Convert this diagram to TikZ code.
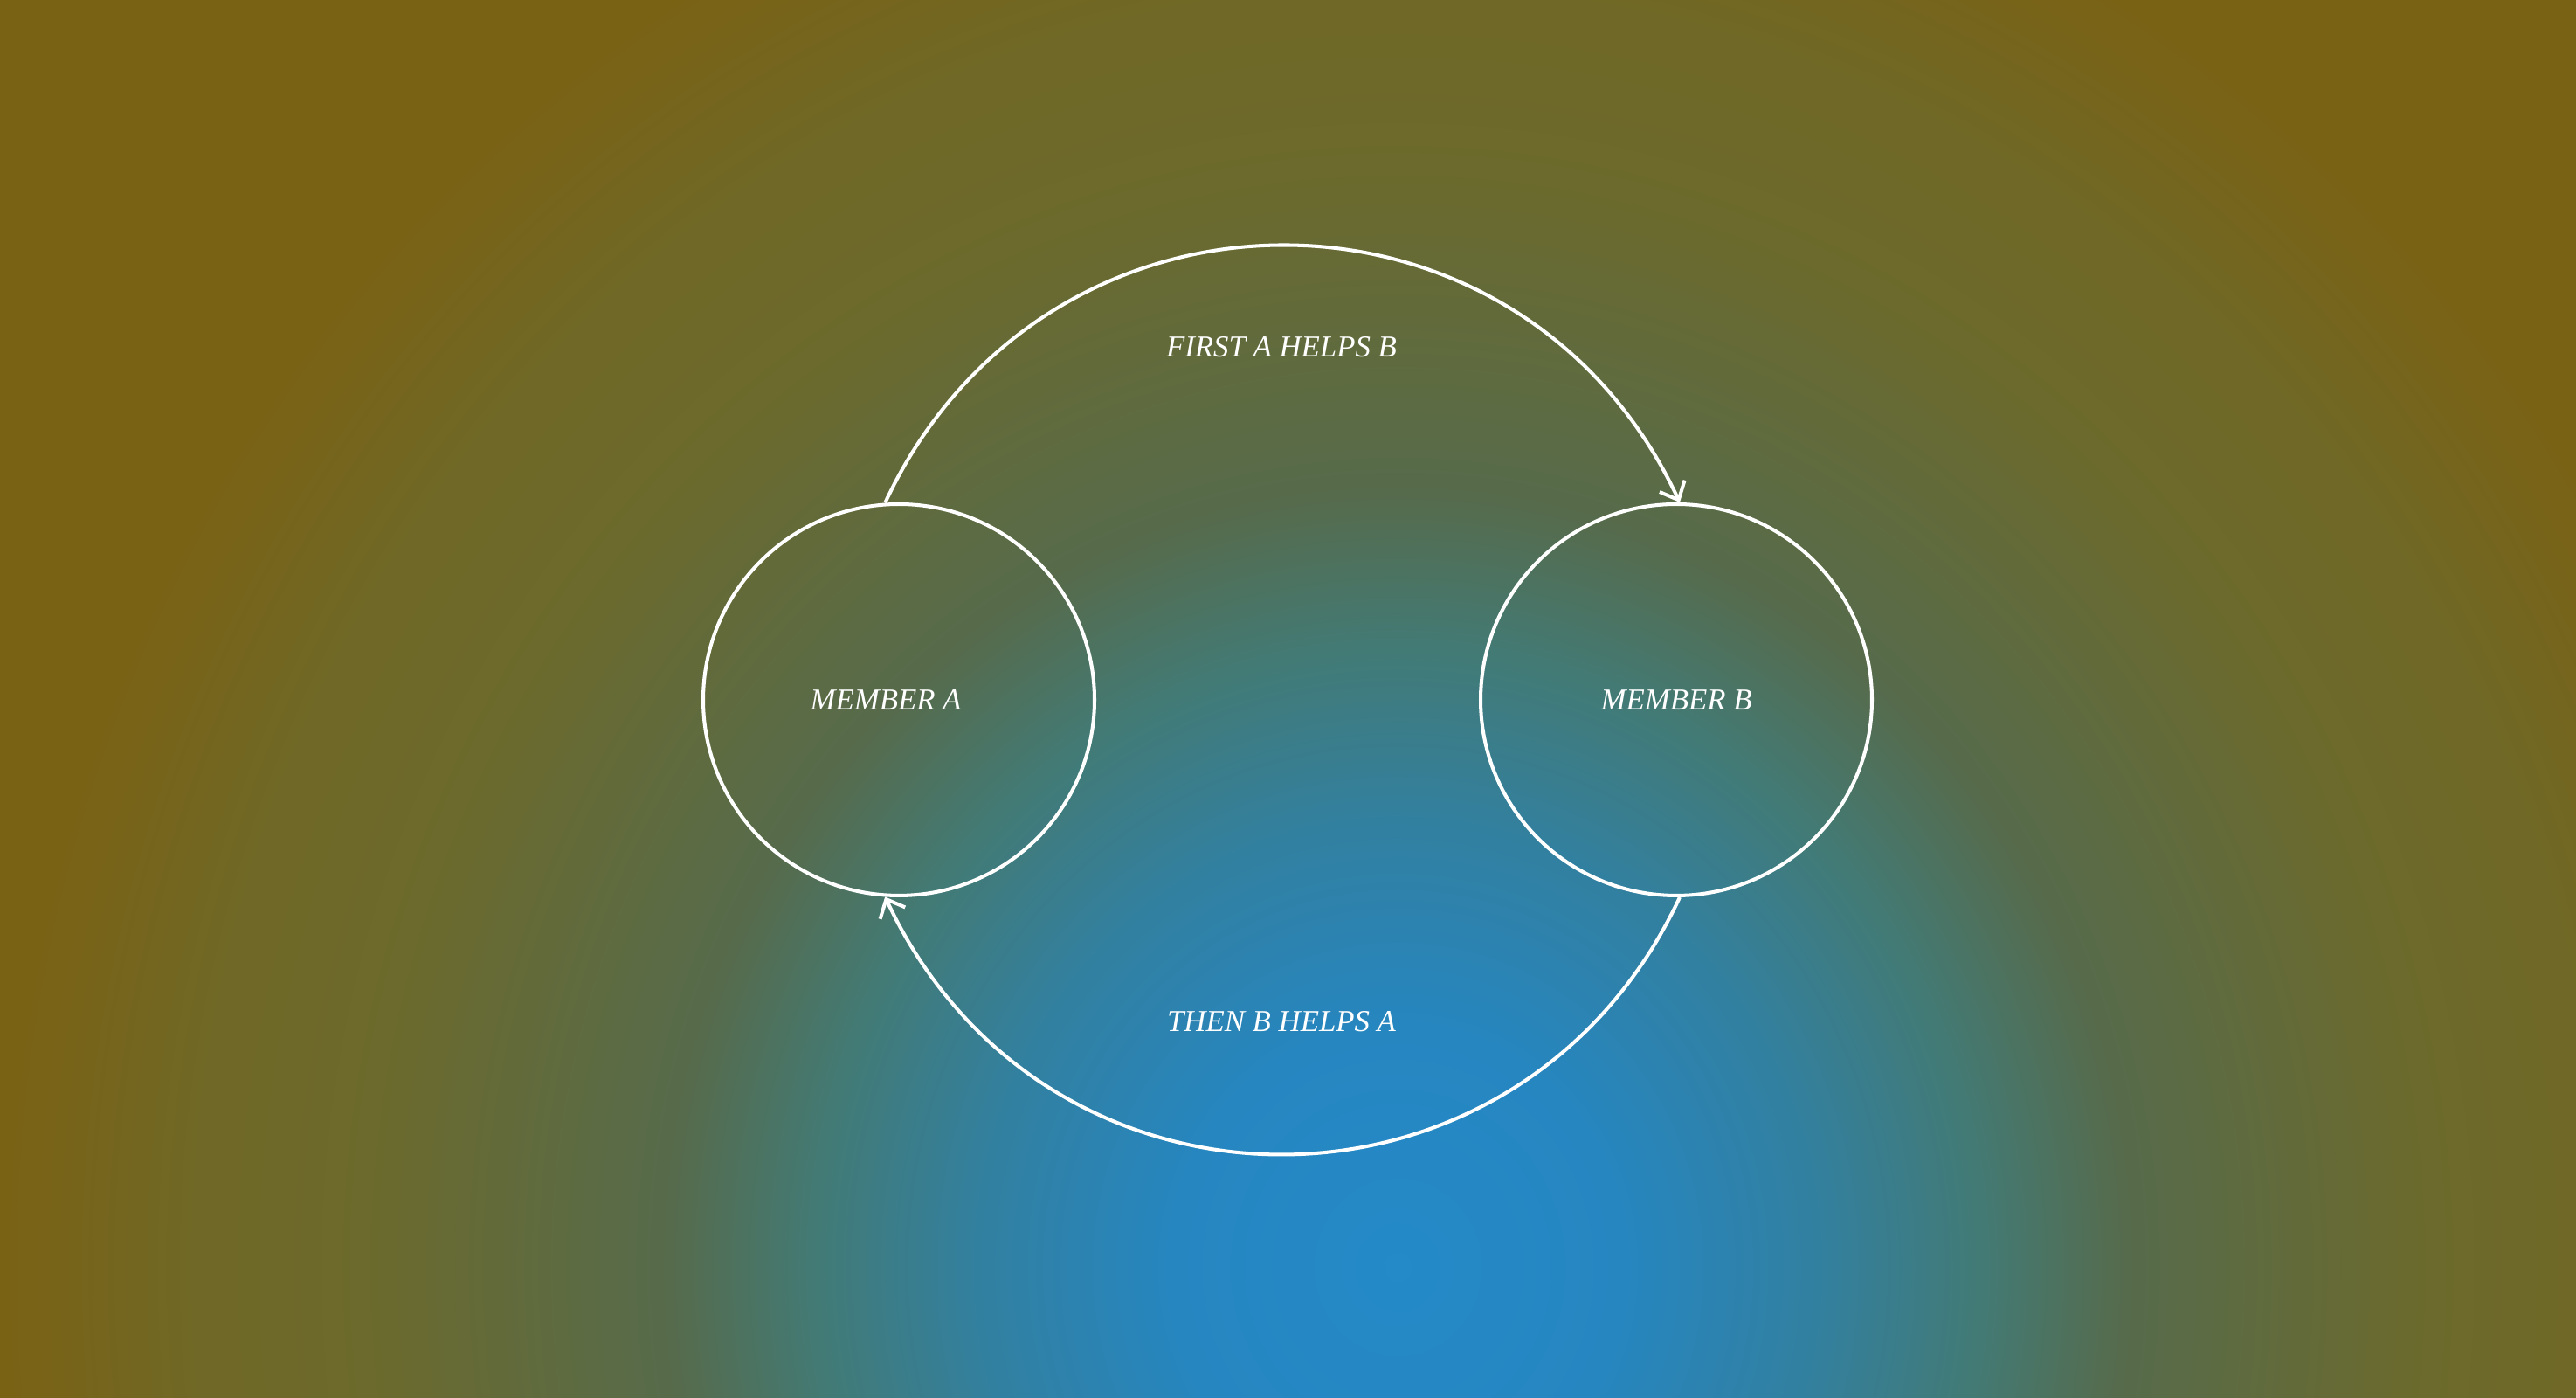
\documentclass[tikz,border=0pt]{standalone}
\usepackage{fontspec}
\setmainfont{Liberation Serif}
\usepackage{tikz}
\usetikzlibrary{calc,positioning,arrows.meta}

\definecolor{bgolive}{RGB}{122,98,20}
\definecolor{bgdrab}{RGB}{112,104,38}
\definecolor{bgmoss}{RGB}{108,106,44}
\definecolor{bggreen}{RGB}{86,107,76}
\definecolor{bgteal}{RGB}{67,122,116}
\definecolor{bgsea}{RGB}{50,128,160}
\definecolor{bgsky}{RGB}{38,134,192}
\definecolor{bgblue}{RGB}{36,138,200}

\pgfdeclareradialshading{bgglow}{\pgfpoint{0bp}{0bp}}{%
	color(0bp)=(bgblue); color(4bp)=(bgsky); color(7.5bp)=(bgsea);
	color(10.5bp)=(bgteal); color(13bp)=(bggreen); color(18.5bp)=(bgmoss);
	color(21.5bp)=(bgdrab); color(25bp)=(bgolive); color(50bp)=(bgolive)}

\begin{document}
\begin{tikzpicture}[
		member/.style={circle, draw=white, line width=1.15pt, minimum size=4.48cm, inner sep=0pt},
		helps/.style={draw=white, line width=1.15pt, -{Straight Barb[length=5pt,width=9pt]}},
		tag/.style={text=white, font=\fontsize{9.9}{12}\selectfont\itshape}]
			\useasboundingbox (0,0) rectangle (29.49,16);
			\begin{scope}
				\clip (0,0) rectangle (29.49,16);
				\fill[bgolive] (0,0) rectangle (29.49,16);
				\shade[shading=bgglow] (16,1.5) ellipse (16 and 17);
			\end{scope}
			\node[member, label={[tag, xshift=-1.5mm]center:MEMBER A}] at (10.29,7.99) (a) {};
			\node[member, label={[tag]center:MEMBER B}] at (19.19,7.99) (b) {};
			\node[tag] at (14.67,12.03) (first) {FIRST A HELPS B};
			\node[tag] at (14.67,4.31) (then) {THEN B HELPS A};
			\draw[helps] (a.94) to[out=65,in=115,looseness=1.22] (b.89);
			\draw[helps] (b.271) to[out=-115,in=-65,looseness=1.22] (a.266);
		\end{tikzpicture}
\end{document}
